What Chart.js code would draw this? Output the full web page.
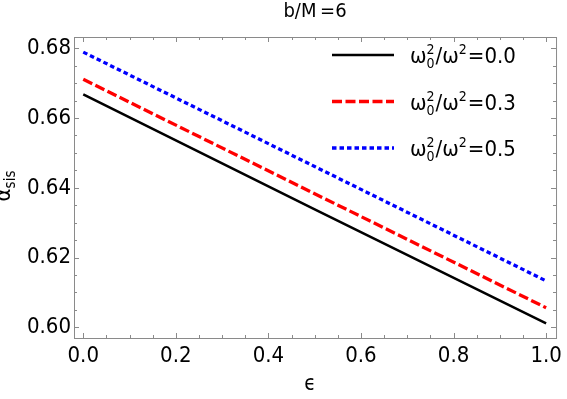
<!DOCTYPE html>
<html>
<head>
<meta charset="utf-8">
<script src="https://cdn.jsdelivr.net/npm/chart.js@4/dist/chart.umd.min.js"></script>
<style>
  html, body { margin:0; padding:0; background:#fff; }
  #wrap { width:567px; height:399px; }
</style>
</head>
<body>
<div id="wrap"><canvas id="chart" width="567" height="399"></canvas></div>
<script>
// values
const epsVals = [0, 0.5, 1.0];
const alpha00 = [0.6668, 0.6338, 0.6011];   // w0^2/w^2 = 0.0
const alpha03 = [0.6711, 0.6383, 0.6056];   // w0^2/w^2 = 0.3
const alpha05 = [0.6789, 0.6461, 0.6133];   // w0^2/w^2 = 0.5
const ratioLabels = ['0.0', '0.3', '0.5'];
const xTicks = [0, 0.2, 0.4, 0.6, 0.8, 1.0];
const yTicks = [0.60, 0.62, 0.64, 0.66, 0.68];

const FONT = '"DejaVu Sans Condensed", "DejaVu Sans", sans-serif';
const frameColor = '#8a8a8a';

const pts = ys => epsVals.map((x, i) => ({ x, y: ys[i] }));

// frame with inward ticks on all four sides
const framePlugin = {
  id: 'frame',
  afterDraw(chart) {
    const { ctx, chartArea: a, scales: { x, y } } = chart;
    ctx.save();
    ctx.strokeStyle = frameColor;
    ctx.lineWidth = 1;
    ctx.strokeRect(a.left + 0.5, a.top + 0.5, a.right - a.left, a.bottom - a.top);
    ctx.beginPath();
    for (let i = 0; i <= 20; i++) {
      const v = i * 0.05;
      const len = (i % 4 === 0) ? 5 : 3;
      const px = Math.round(x.getPixelForValue(v)) + 0.5;
      ctx.moveTo(px, a.bottom); ctx.lineTo(px, a.bottom - len);
      ctx.moveTo(px, a.top); ctx.lineTo(px, a.top + len);
    }
    for (let i = 0; i <= 16; i++) {
      const v = 0.60 + i * 0.005;
      if (v > y.max) break;
      const len = (i % 4 === 0) ? 5 : 3;
      const py = Math.round(y.getPixelForValue(v)) + 0.5;
      ctx.moveTo(a.left, py); ctx.lineTo(a.left + len, py);
      ctx.moveTo(a.right, py); ctx.lineTo(a.right - len, py);
    }
    ctx.stroke();

    // title
    ctx.fillStyle = '#000';
    ctx.textAlign = 'center';
    ctx.textBaseline = 'middle';
    ctx.font = '20px ' + FONT;
    ctx.fillText('b/M\u2009=6', (a.left + a.right) / 2, 12);

    // x title
    ctx.font = '21px ' + FONT;
    ctx.fillText('\u03f5', 310, 385);

    // y title, rotated, alpha with subscript
    ctx.save();
    ctx.translate(10, 186);
    ctx.rotate(-Math.PI / 2);
    ctx.textAlign = 'left';
    ctx.textBaseline = 'alphabetic';
    ctx.font = '22px ' + FONT;
    const wa = ctx.measureText('\u03b1').width;
    ctx.font = '15px ' + FONT;
    const ws = ctx.measureText('sis').width;
    const x0 = -(wa + ws) / 2;
    ctx.font = '22px ' + FONT;
    ctx.fillText('\u03b1', x0, 0);
    ctx.font = '15px ' + FONT;
    ctx.fillText('sis', x0 + wa, 5);
    ctx.restore();

    // legend
    chart.data.datasets.forEach((ds, i) => {
      const ly = 55 + i * 46.5;
      ctx.save();
      ctx.strokeStyle = ds.borderColor;
      ctx.lineWidth = ds.borderWidth;
      ctx.setLineDash(ds.borderDash || []);
      ctx.beginPath();
      ctx.moveTo(332, ly); ctx.lineTo(394, ly);
      ctx.stroke();
      ctx.restore();

      ctx.textAlign = 'left';
      ctx.textBaseline = 'alphabetic';
      const base = ly + 8;
      let tx = 410;
      ctx.font = '22px ' + FONT;
      ctx.fillText('\u03c9', tx, base);
      tx += ctx.measureText('\u03c9').width;
      ctx.font = '14px ' + FONT;
      ctx.fillText('2', tx, base - 9);
      ctx.fillText('0', tx, base + 5);
      tx += ctx.measureText('0').width + 1;
      ctx.font = '22px ' + FONT;
      ctx.fillText('/\u03c9', tx, base);
      tx += ctx.measureText('/\u03c9').width;
      ctx.font = '14px ' + FONT;
      ctx.fillText('2', tx, base - 9);
      tx += ctx.measureText('2').width + 1;
      ctx.font = '22px ' + FONT;
      ctx.fillText('=' + ratioLabels[i], tx, base);
    });
    ctx.restore();
  }
};

new Chart(document.getElementById('chart'), {
  type: 'line',
  data: {
    datasets: [
      { label: 'r0', data: pts(alpha00), borderColor: '#000000', borderWidth: 2.5, borderDash: [] },
      { label: 'r3', data: pts(alpha03), borderColor: '#ff0000', borderWidth: 3.3, borderDash: [10, 3.5] },
      { label: 'r5', data: pts(alpha05), borderColor: '#0000ff', borderWidth: 3.3, borderDash: [4.5, 3] }
    ]
  },
  options: {
    responsive: false,
    animation: false,
    layout: { padding: { top: 37, right: 7, left: 0, bottom: 0 } },
    elements: { point: { radius: 0 }, line: { tension: 0, borderCapStyle: 'butt' } },
    plugins: { legend: { display: false }, tooltip: { enabled: false } },
    scales: {
      x: {
        type: 'linear', min: -0.02, max: 1.0214,
        grid: { display: false, drawTicks: false },
        border: { display: false },
        afterFit: s => { s.height = 61; },
        afterBuildTicks: s => { s.ticks = xTicks.map(v => ({ value: v })); },
        ticks: {
          autoSkip: false, maxRotation: 0, padding: 5, color: '#000',
          font: { family: FONT, size: 22 },
          callback: v => v.toFixed(1)
        }
      },
      y: {
        type: 'linear', min: 0.59693, max: 0.68324,
        grid: { display: false, drawTicks: false },
        border: { display: false },
        afterFit: s => { s.width = 74; },
        afterBuildTicks: s => { s.ticks = yTicks.map(v => ({ value: v })); },
        ticks: {
          autoSkip: false, padding: 3, color: '#000',
          font: { family: FONT, size: 22 },
          callback: v => v.toFixed(2)
        }
      }
    }
  },
  plugins: [framePlugin]
});
</script>
</body>
</html>
